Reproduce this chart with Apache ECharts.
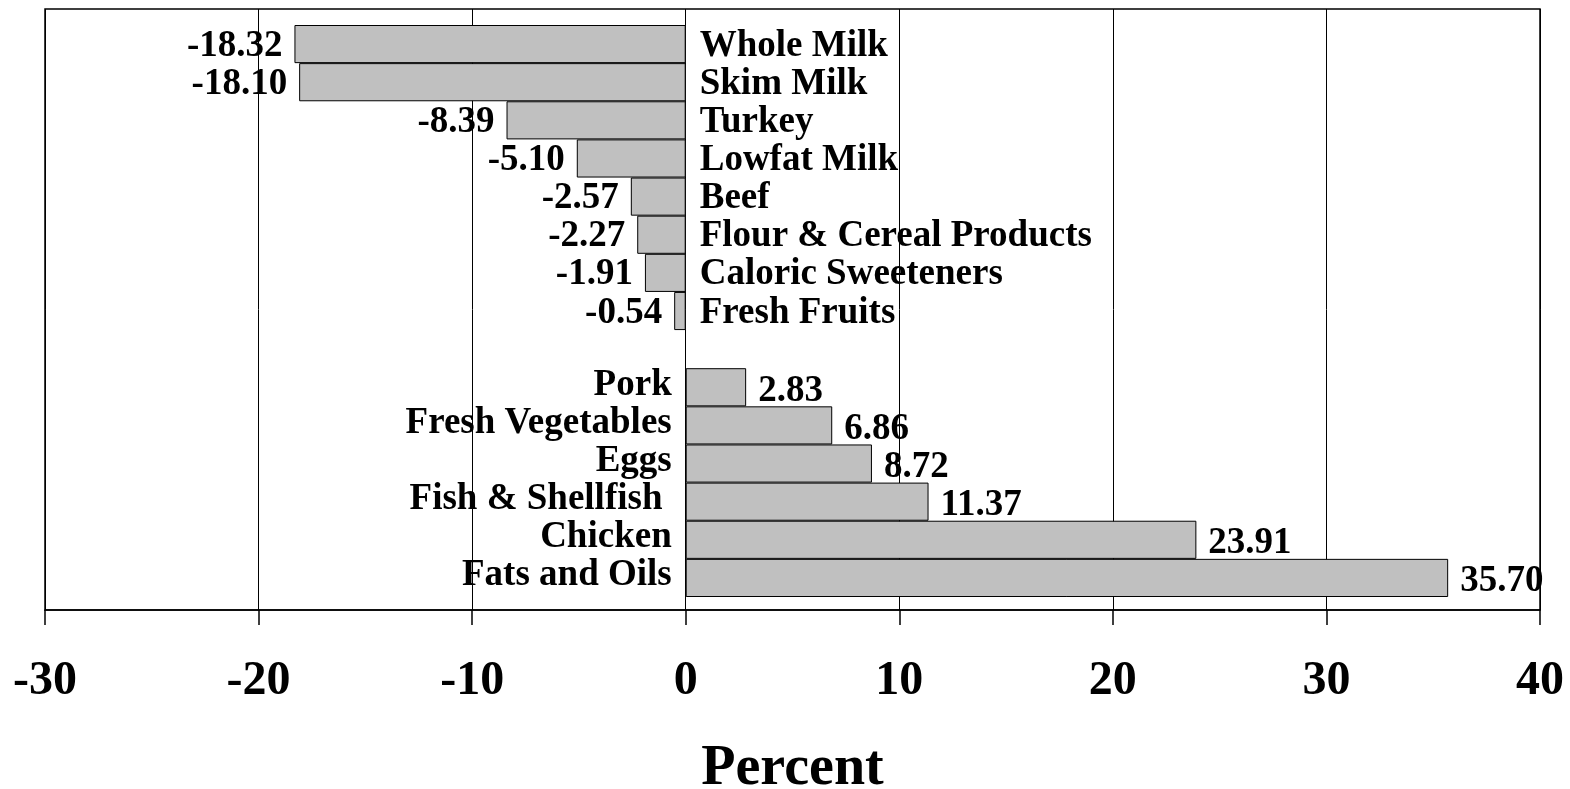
<!DOCTYPE html>
<html>
<head>
<meta charset="utf-8">
<script src="https://cdn.jsdelivr.net/npm/echarts@6/dist/echarts.min.js"></script>
<style>
html,body{margin:0;padding:0;background:#fff;}
#chart{width:1570px;height:789px;}
</style>
</head>
<body>
<div id="chart"></div>
<script>
const categories = ['Whole Milk','Skim Milk','Turkey','Lowfat Milk','Beef','Flour & Cereal Products','Caloric Sweeteners','Fresh Fruits','','Pork','Fresh Vegetables','Eggs','Fish & Shellfish ','Chicken','Fats and Oils'];
const values = [-18.32,-18.10,-8.39,-5.10,-2.57,-2.27,-1.91,-0.54,null,2.83,6.86,8.72,11.37,23.91,35.70];
const xMin = -30, xMax = 40, xInterval = 10;
const axisTitle = 'Percent';

const FONT = "'Liberation Serif', 'Times New Roman', serif";

const chart = echarts.init(document.getElementById('chart'));

const valueLabelData = values.map(v => v == null ? '-' : {
  value: v,
  label: { position: v < 0 ? 'left' : 'right', offset: v < 0 ? [0, 2] : [0, 4] }
});
const nameLabelData = values.map(v => v == null ? '-' : {
  value: v,
  label: { position: v < 0 ? 'right' : 'left', offset: v < 0 ? [0, 2] : [0, -2] }
});

const labelText = { fontFamily: FONT, fontWeight: 'bold', fontSize: 37, color: '#000' };

chart.setOption({
  animation: false,
  backgroundColor: '#fff',
  grid: [
    { left: 45, right: 30, top: 9, bottom: 179, outerBoundsMode: 'none', containLabel: false, show: true, borderColor: '#000', borderWidth: 1.5, backgroundColor: 'transparent' },
    { left: 45, right: 30, top: 25, bottom: 192, outerBoundsMode: 'none', containLabel: false }
  ],
  xAxis: [
    {
      gridIndex: 0, type: 'value', min: xMin, max: xMax, interval: xInterval,
      axisLine: { show: true, lineStyle: { color: '#000', width: 1.5 } },
      axisTick: { show: true, length: 15, inside: false, lineStyle: { color: '#000', width: 1.5 } },
      splitLine: { show: true, lineStyle: { color: '#000', width: 1 } },
      axisLabel: { fontFamily: FONT, fontWeight: 'bold', fontSize: 48, color: '#000', margin: 48 },
      name: axisTitle, nameLocation: 'middle', nameGap: 132,
      nameTextStyle: { fontFamily: FONT, fontWeight: 'bold', fontSize: 56, color: '#000' }
    },
    { gridIndex: 1, type: 'value', min: xMin, max: xMax, show: false }
  ],
  yAxis: [
    { gridIndex: 0, type: 'value', show: false },
    { gridIndex: 1, type: 'category', data: categories, inverse: true, show: false }
  ],
  series: [
    {
      name: 'bars', type: 'bar', xAxisIndex: 1, yAxisIndex: 1, data: values,
      barCategoryGap: '0%', barGap: '-100%', z: 2, silent: true,
      itemStyle: { color: '#c0c0c0', borderColor: '#000', borderWidth: 1 }
    },
    {
      name: 'values', type: 'bar', xAxisIndex: 1, yAxisIndex: 1, data: valueLabelData,
      barCategoryGap: '0%', barGap: '-100%', z: -1, silent: true,
      itemStyle: { color: 'rgba(0,0,0,0)' },
      label: Object.assign({ show: true, distance: 12, formatter: p => Number(p.value).toFixed(2) }, labelText)
    },
    {
      name: 'names', type: 'bar', xAxisIndex: 1, yAxisIndex: 1, data: nameLabelData,
      barCategoryGap: '0%', barGap: '-100%', z: -1, silent: true,
      itemStyle: { color: 'rgba(0,0,0,0)' },
      label: Object.assign({ show: true, distance: 14, formatter: p => p.name }, labelText)
    }
  ]
});
</script>
</body>
</html>
